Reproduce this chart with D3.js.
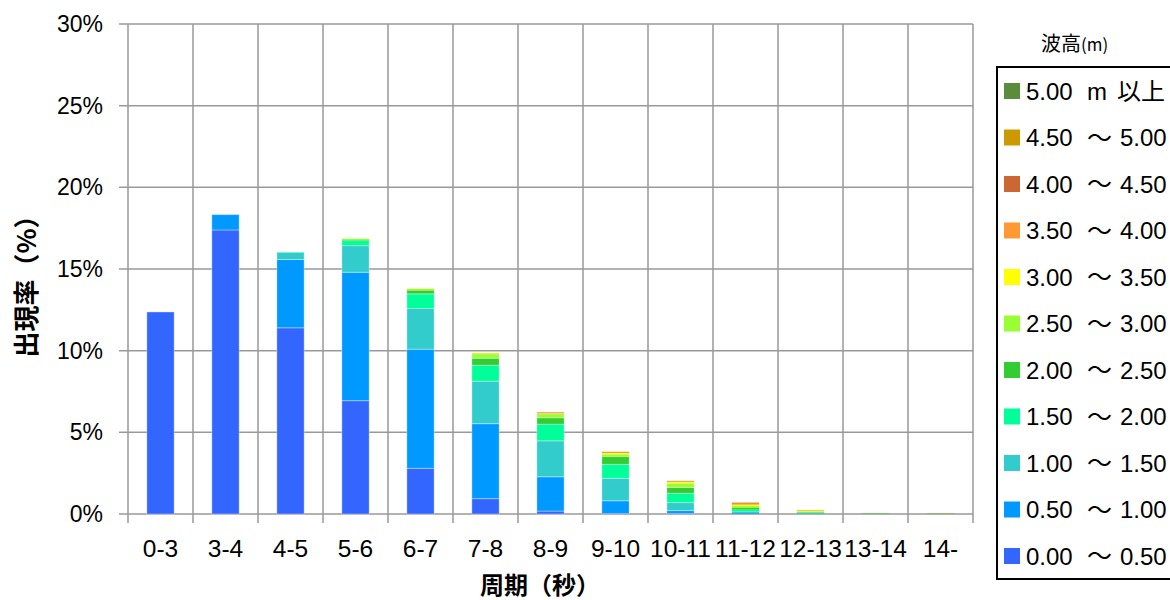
<html>
<head>
<meta charset="utf-8">
<script src="https://d3js.org/d3.v7.min.js"></script>
<style>
    body { margin: 0; background: #fff; }
    text { font-family: "Liberation Sans", "Noto Sans CJK JP", sans-serif; fill: #000; }
    .jp { font-family: "Noto Sans CJK JP", sans-serif; }
</style>
</head>
<body>
<svg id="chart"></svg>
<script>
    // period classes (x axis)
    var periods = ["0-3", "3-4", "4-5", "5-6", "6-7", "7-8", "8-9", "9-10", "10-11", "11-12", "12-13", "13-14", "14-"];

    // wave height classes, bottom of stack first
    var heightKeys = ["h00", "h05", "h10", "h15", "h20", "h25", "h30", "h35", "h40", "h45", "h50"];
    var heightFrom = ["0.00", "0.50", "1.00", "1.50", "2.00", "2.50", "3.00", "3.50", "4.00", "4.50", "5.00"];
    var heightSep = ["～", "～", "～", "～", "～", "～", "～", "～", "～", "～", "m"];
    var heightTo = ["0.50", "1.00", "1.50", "2.00", "2.50", "3.00", "3.50", "4.00", "4.50", "5.00", "以上"];
    var heightColors = ["#3366ff", "#0099ff", "#33cccc", "#00ff99", "#33cc33", "#99ff33", "#ffff00", "#ff9933", "#cc6633", "#cc9900", "#5a8c3c"];

    // occurrence rate (%) per height class, one value per period
    var h00 = [12.37, 17.39, 11.40, 6.94, 2.80, 0.94, 0.18, 0.03, 0.03, 0.01, 0, 0, 0];
    var h05 = [0, 0.94, 4.18, 7.86, 7.29, 4.59, 2.10, 0.78, 0.18, 0.04, 0.02, 0, 0];
    var h10 = [0, 0, 0.43, 1.63, 2.49, 2.60, 2.20, 1.37, 0.49, 0.10, 0.03, 0, 0];
    var h15 = [0, 0, 0.02, 0.31, 0.90, 0.98, 1.02, 0.86, 0.57, 0.12, 0.03, 0.01, 0];
    var h20 = [0, 0, 0, 0.03, 0.22, 0.43, 0.39, 0.47, 0.35, 0.10, 0.03, 0.02, 0];
    var h25 = [0, 0, 0, 0.08, 0.08, 0.26, 0.24, 0.14, 0.26, 0.12, 0.05, 0.01, 0.02];
    var h30 = [0, 0, 0, 0, 0.02, 0.04, 0.03, 0.08, 0.08, 0.08, 0.05, 0, 0];
    var h35 = [0, 0, 0, 0, 0, 0.02, 0.05, 0.04, 0.03, 0.06, 0.02, 0, 0];
    var h40 = [0, 0, 0, 0, 0, 0, 0.02, 0.03, 0.02, 0.04, 0.01, 0, 0];
    var h45 = [0, 0, 0, 0, 0, 0, 0, 0.01, 0.02, 0.03, 0.01, 0, 0];
    var h50 = [0, 0, 0, 0, 0, 0, 0, 0, 0, 0, 0, 0.01, 0.02];

    var yTicks = [0, 5, 10, 15, 20, 25, 30];

    var series = { h00: h00, h05: h05, h10: h10, h15: h15, h20: h20, h25: h25, h30: h30, h35: h35, h40: h40, h45: h45, h50: h50 };
    var rows = periods.map(function (p, i) {
        var r = { period: p };
        heightKeys.forEach(function (k) { r[k] = series[k][i]; });
        return r;
    });

    var margin = { top: 24, right: 197, bottom: 86, left: 128 },
        width = 1170 - margin.left - margin.right,
        height = 600 - margin.top - margin.bottom;

    var root = d3.select("#chart")
        .attr("width", 1170)
        .attr("height", 600);

    var svg = root.append("g")
        .attr("transform", "translate(" + margin.left + "," + margin.top + ")");

    var x = d3.scaleBand()
        .domain(periods)
        .range([0, width])
        .paddingInner(0.58)
        .paddingOuter(0.29);

    var y = d3.scaleLinear()
        .domain([0, 30])
        .range([height, 0]);

    var gridColor = "#999";

    // horizontal grid
    svg.append("g")
        .selectAll("line")
        .data(yTicks)
        .enter()
        .append("line")
        .attr("x1", -9)
        .attr("x2", width)
        .attr("y1", function (d) { return y(d); })
        .attr("y2", function (d) { return y(d); })
        .attr("stroke", gridColor)
        .attr("stroke-width", 1.5);

    // vertical grid at category boundaries (with tick below the axis)
    var step = x.step();
    svg.append("g")
        .selectAll("line")
        .data(d3.range(periods.length + 1))
        .enter()
        .append("line")
        .attr("x1", function (d) { return d * step; })
        .attr("x2", function (d) { return d * step; })
        .attr("y1", 0)
        .attr("y2", height + 9)
        .attr("stroke", gridColor)
        .attr("stroke-width", 1.5);

    // y tick labels
    svg.append("g")
        .selectAll("text")
        .data(yTicks)
        .enter()
        .append("text")
        .attr("x", -25)
        .attr("y", function (d) { return y(d); })
        .attr("dy", "0.35em")
        .attr("text-anchor", "end")
        .style("font-size", "23px")
        .text(function (d) { return d + "%"; });

    // x tick labels
    svg.append("g")
        .selectAll("text")
        .data(periods)
        .enter()
        .append("text")
        .attr("x", function (d) { return x(d) + x.bandwidth() / 2; })
        .attr("y", height + 43)
        .attr("text-anchor", "middle")
        .style("font-size", "24.5px")
        .text(function (d) { return d; });

    // stacked bars
    var stacked = d3.stack().keys(heightKeys)(rows);

    svg.append("g")
        .selectAll("g")
        .data(stacked)
        .enter()
        .append("g")
        .attr("fill", function (d, i) { return heightColors[i]; })
        .selectAll("rect")
        .data(function (d) { return d; })
        .enter()
        .append("rect")
        .attr("x", function (d) { return x(d.data.period); })
        .attr("width", x.bandwidth())
        .attr("y", function (d) { return y(d[1]); })
        .attr("height", function (d) { return Math.max(0, y(d[0]) - y(d[1])); })
        .attr("stroke", "rgba(255,255,255,0.35)")
        .attr("stroke-width", function (d) { return d[1] - d[0] > 0.15 ? 1 : 0; });

    // axis titles
    root.append("text")
        .attr("class", "jp")
        .attr("x", 540)
        .attr("y", 594)
        .attr("text-anchor", "middle")
        .style("font-size", "24px")
        .style("font-weight", "bold")
        .text("周期（秒）");

    root.append("text")
        .attr("class", "jp")
        .attr("transform", "translate(36,280) rotate(-90)")
        .attr("text-anchor", "middle")
        .style("font-size", "26px")
        .style("font-weight", "bold")
        .text("出現率（%）");

    // legend
    var legendTitle = root.append("text")
        .attr("class", "jp")
        .attr("x", 1041)
        .attr("y", 51)
        .style("font-size", "20px");
    legendTitle.append("tspan").text("波高");
    legendTitle.append("tspan").style("font-size", "17px").text("(m)");

    root.append("rect")
        .attr("x", 997)
        .attr("y", 67)
        .attr("width", 200)
        .attr("height", 512)
        .attr("fill", "none")
        .attr("stroke", "#000")
        .attr("stroke-width", 2);

    var legendOrder = d3.range(heightKeys.length).reverse();
    var legend = root.append("g")
        .selectAll("g")
        .data(legendOrder)
        .enter()
        .append("g")
        .attr("transform", function (d, i) { return "translate(0," + (91 + i * 46.5) + ")"; });

    legend.append("rect")
        .attr("x", 1004)
        .attr("y", -8)
        .attr("width", 16)
        .attr("height", 16)
        .attr("fill", function (d) { return heightColors[d]; });

    legend.append("text")
        .attr("x", 1026)
        .attr("dy", "0.36em")
        .style("font-size", "24px")
        .text(function (d) { return heightFrom[d]; });

    legend.append("text")
        .attr("class", function (d) { return heightSep[d] === "m" ? null : "jp"; })
        .attr("x", 1087)
        .attr("dy", "0.36em")
        .style("font-size", function (d) { return heightSep[d] === "m" ? "24px" : "25px"; })
        .text(function (d) { return heightSep[d]; });

    legend.append("text")
        .attr("class", function (d) { return heightSep[d] === "m" ? "jp" : null; })
        .attr("x", function (d) { return heightSep[d] === "m" ? 1117 : 1120; })
        .attr("dy", "0.36em")
        .style("font-size", "24px")
        .text(function (d) { return heightTo[d]; });
</script>
</body>
</html>
